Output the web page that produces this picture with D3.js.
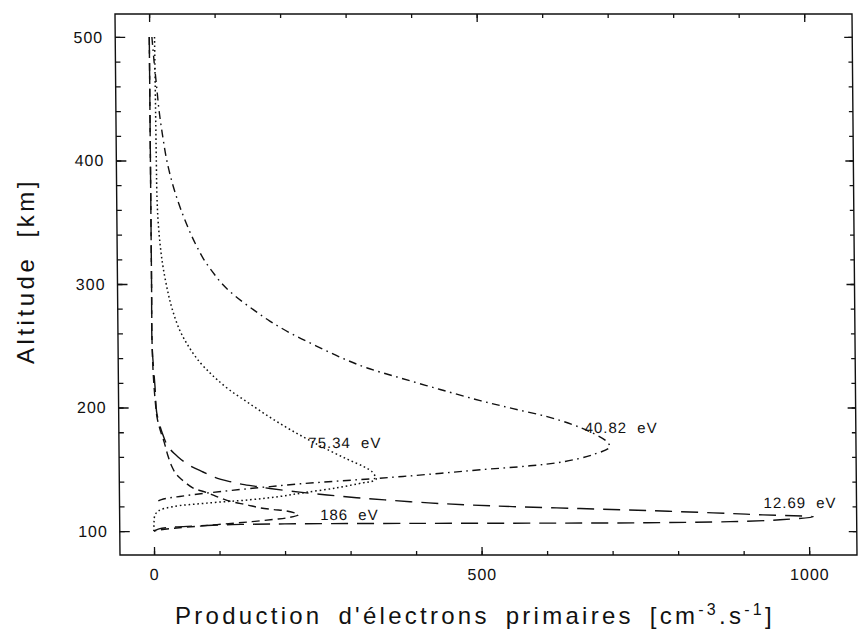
<!DOCTYPE html>
<html>
<head>
<meta charset="utf-8">
<script src="https://cdn.jsdelivr.net/npm/d3@7"></script>
<style>
  body { margin: 0; background: #fff; }
  svg { display: block; }
  text { font-family: "Liberation Sans", Arial, Helvetica, sans-serif; fill: #111; }
</style>
</head>
<body>
<svg id="chart" width="860" height="635"></svg>
<script>
// ---------- data (production [cm-3 s-1], altitude [km]) ----------
const curve1269 = [
  [0,500],[0,400],[0,300],[0,250],[3.8,217],[6,196],[8.4,190],[13.8,180],[22.8,168.5],
  [38,160],[56,153],[76,147.8],[94,143.5],[117,140],[136,137.8],[158,136],[178,134.4],
  [223,131.5],[265,129.2],[310,127],[353,125.2],[420,122.8],[478,121.2],[548,119.8],
  [651,118.2],[753,116.6],[854,114.7],[930,113.1],[1007,111.5],
  [956,109.1],[880,107.6],[753,106.7],[600,106.4],[400,106.2],[200,105.8],[120,105.2],
  [60,104],[25,103],[8,101.8],[2,100.5],[0,100]
];
const curve186 = [
  [0,500],[0,400],[0,300],[0,250],[1.5,225],[4,205],[6.5,192],[11,182],[17,172],[22,162],
  [28.6,152],[35,146],[43.7,141.5],[60,135],[82,131],[101,127],[120,123.7],[142,121.3],
  [162,118.8],[183,117.4],[203,116.2],[221,113.3],
  [203,110.6],[183,109.4],[150,107.6],[110,105.8],[70,104],[35,102.5],[10,101],[0,100]
];
const curve7534 = [
  [8,500],[8.5,450],[9,400],[9.5,370],[11,350],[14,330],[18,313],[25,293],[31,280],
  [42,263],[55,250],[72,237],[88,228],[100,222],[118,214],[140,206],[162,198],[185,190],
  [210,182],[237,174],[266,166],[297,158],[322,152],[334,148],[339,144],[340,142],
  [332,140],[320,139],[280,135],[229,131],[193,128],[147,125.3],[81,122.6],[30,119.8],
  [8,116.5],[2,113],[0.5,108],[0,100]
];
const curve4082 = [
  [4,500],[7,480],[10.5,460],[14,440],[19,420],[25,400],[34,380],[46,360],[61,340],
  [70,330],[80,320],[93,310],[108,300],[128,290],[153,280],[180,270],[212,260],[250,250],
  [290,240],[328,232],[378,224],[439,214.6],[500,205.6],[550,199.1],[602,192.6],
  [641,186.1],[667,180.4],[693,172.3],[697,168],[671,161.8],[626,156.1],[575,152.8],
  [499,149.6],[440,146.8],[381,144.2],[330,142.2],[280,140.4],[228,138.4],[178,136],
  [132,133.6],[82,130.8],[40,128],[12,125.5],[3,123]
];
const curveNames = ["12.69 eV", "186 eV", "75.34 eV", "40.82 eV"];
const labelAt = [[931,118.6],[254,109],[237,167],[659,179]];   // data units

const xMajorTicks = [0, 500, 1000];
const xMinorTicks = [0,100,200,300,400,500,600,700,800,900,1000];
const yMajorTicks = [100, 200, 300, 400, 500];
const yMinorTicks = [100,120,140,160,180,200,220,240,260,280,300,320,340,360,380,400,420,440,460,480,500];

const xDomain = [-52, 1073];
const yDomain = [80.6, 518.6];

// ---------- layout ----------
const svg = d3.select("#chart");
const pLeft = 120, pRight = 857, pTop = 14, pBottom = 555;
const x = d3.scaleLinear().domain(xDomain).range([pLeft, pRight]);
const y = d3.scaleLinear().domain(yDomain).range([pBottom, pTop]);

// slight scan shear of the original figure
const g = svg.append("g")
  .attr("transform", `translate(0,${pBottom}) skewX(0.53) translate(0,${-pBottom})`);

// frame
g.append("rect")
  .attr("x", pLeft).attr("y", pTop)
  .attr("width", pRight - pLeft).attr("height", pBottom - pTop)
  .attr("fill", "none").attr("stroke", "#111").attr("stroke-width", 1.4);

function styleAxis(sel) {
  sel.select(".domain").remove();
  sel.selectAll(".tick line").attr("stroke", "#111").attr("stroke-width", 1.3);
  sel.selectAll("text")
    .attr("font-family", '"Liberation Sans", Arial, sans-serif')
    .attr("font-size", 16).attr("letter-spacing", "1px").attr("fill", "#111");
}

// bottom
g.append("g").attr("transform", `translate(0,${pBottom})`)
  .call(d3.axisBottom(x).tickValues(xMinorTicks).tickSize(-4).tickSizeOuter(0).tickFormat(""))
  .call(styleAxis);
g.append("g").attr("transform", `translate(0,${pBottom})`)
  .call(d3.axisBottom(x).tickValues(xMajorTicks).tickSize(-8).tickSizeOuter(0).tickPadding(14).tickFormat(d3.format("d")))
  .call(styleAxis);
// top
g.append("g").attr("transform", `translate(0,${pTop})`)
  .call(d3.axisTop(x).tickValues(xMinorTicks).tickSize(-4).tickSizeOuter(0).tickFormat(""))
  .call(styleAxis);
g.append("g").attr("transform", `translate(0,${pTop})`)
  .call(d3.axisTop(x).tickValues(xMajorTicks).tickSize(-8).tickSizeOuter(0).tickFormat(""))
  .call(styleAxis);
// left
g.append("g").attr("transform", `translate(${pLeft},0)`)
  .call(d3.axisLeft(y).tickValues(yMinorTicks).tickSize(-5).tickSizeOuter(0).tickFormat(""))
  .call(styleAxis);
g.append("g").attr("transform", `translate(${pLeft},0)`)
  .call(d3.axisLeft(y).tickValues(yMajorTicks).tickSize(-10).tickSizeOuter(0).tickPadding(12).tickFormat(d3.format("d")))
  .call(styleAxis);
// right
g.append("g").attr("transform", `translate(${pRight},0)`)
  .call(d3.axisRight(y).tickValues(yMinorTicks).tickSize(-4).tickSizeOuter(0).tickFormat(""))
  .call(styleAxis);
g.append("g").attr("transform", `translate(${pRight},0)`)
  .call(d3.axisRight(y).tickValues(yMajorTicks).tickSize(-8).tickSizeOuter(0).tickFormat(""))
  .call(styleAxis);

// curves
const line = d3.line()
  .x(d => x(d[0])).y(d => y(d[1]))
  .curve(d3.curveCatmullRom.alpha(0.5));

const curves = [curve1269, curve186, curve7534, curve4082];
const dashes = ["17,9", "8,5", "1.6,2.8", "8,4.5,1.6,4.5"];
curves.forEach((c, i) => {
  g.append("path")
    .attr("d", line(c))
    .attr("fill", "none")
    .attr("stroke", "#111")
    .attr("stroke-width", i === 2 ? 1.5 : 1.4)
    .attr("stroke-dasharray", dashes[i]);
});

// curve labels
curveNames.forEach((name, i) => {
  g.append("text")
    .attr("x", x(labelAt[i][0])).attr("y", y(labelAt[i][1]))
    .attr("font-size", 15).attr("letter-spacing", "1px")
    .attr("word-spacing", "5px")
    .text(name);
});

// axis titles
const yTitle = svg.append("text")
  .attr("transform", `translate(34,271) rotate(-90)`)
  .attr("text-anchor", "middle")
  .attr("font-size", 24)
  .attr("word-spacing", "8px")
  .text("Altitude [km]");

const xTitle = svg.append("text")
  .attr("x", 475).attr("y", 624)
  .attr("text-anchor", "middle")
  .attr("font-size", 24)
  .attr("word-spacing", "6px");
xTitle.append("tspan").text("Production d'électrons primaires [cm");
xTitle.append("tspan").attr("dy", -9).attr("font-size", 16).text("-3");
xTitle.append("tspan").attr("dy", 9).text(".s");
xTitle.append("tspan").attr("dy", -9).attr("font-size", 16).text("-1");
xTitle.append("tspan").attr("dy", 9).text("]");

// stretch titles to the width of the original lettering
function fitWidth(sel, target) {
  const node = sel.node();
  const n = node.textContent.length;
  const w = node.getComputedTextLength();
  sel.attr("letter-spacing", ((target - w) / n) + "px");
}
fitWidth(yTitle, 186);
fitWidth(xTitle, 600);
</script>
</body>
</html>
